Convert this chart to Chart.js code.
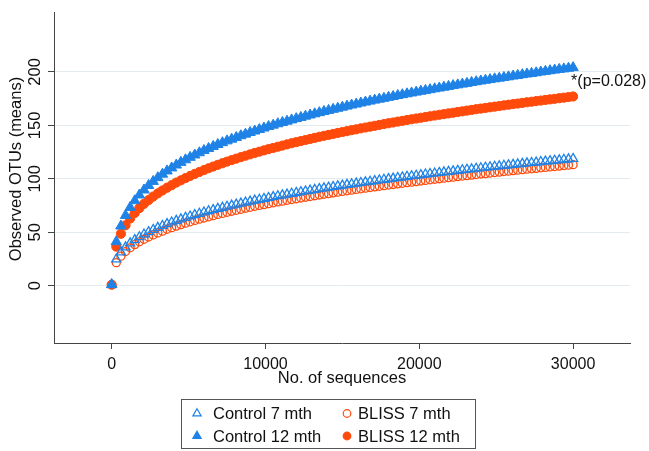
<!DOCTYPE html>
<html lang="en">
<head>
    <meta charset="UTF-8">
    <title>Observed OTUs rarefaction</title>
    <script src="https://cdn.jsdelivr.net/npm/chart.js"></script>
    <style>
        body { margin: 0; background: #fff; }
        canvas { display: block; }
    </style>
</head>
<body>
    <canvas id="otuChart" width="649" height="451"></canvas>
    <script>
        // sequencing depth (x) and mean observed OTUs per group
        const seqDepth = [0,300,600,900,1200,1500,1800,2100,2400,2700,3000,3300,3600,3900,4200,4500,4800,5100,5400,5700,
            6000,6300,6600,6900,7200,7500,7800,8100,8400,8700,9000,9300,9600,9900,10200,10500,10800,11100,11400,11700,
            12000,12300,12600,12900,13200,13500,13800,14100,14400,14700,15000,15300,15600,15900,16200,16500,16800,17100,17400,17700,
            18000,18300,18600,18900,19200,19500,19800,20100,20400,20700,21000,21300,21600,21900,22200,22500,22800,23100,23400,23700,
            24000,24300,24600,24900,25200,25500,25800,26100,26400,26700,27000,27300,27600,27900,28200,28500,28800,29100,29400,29700,30000];

        const control7 = [1, 24.8, 31.4, 36.1, 39.8, 42.9, 45.6, 48.1, 50.3, 52.4, 54.3,
            56.1, 57.8, 59.4, 60.9, 62.3, 63.7, 65.0, 66.3, 67.5, 68.7,
            69.9, 71.0, 72.1, 73.1, 74.1, 75.1, 76.1, 77.0, 78.0, 78.9,
            79.8, 80.6, 81.4, 82.3, 83.1, 83.9, 84.7, 85.4, 86.2, 87.0,
            87.7, 88.4, 89.2, 89.9, 90.6, 91.3, 91.9, 92.6, 93.2, 93.9,
            94.5, 95.1, 95.7, 96.3, 96.9, 97.5, 98.1, 98.7, 99.3, 99.9,
            100.4, 101.0, 101.5, 102.1, 102.6, 103.1, 103.6, 104.2, 104.7, 105.2,
            105.7, 106.2, 106.7, 107.2, 107.7, 108.2, 108.7, 109.1, 109.6, 110.1,
            110.6, 111.0, 111.5, 111.9, 112.4, 112.8, 113.3, 113.7, 114.2, 114.6,
            115.0, 115.4, 115.9, 116.3, 116.7, 117.1, 117.5, 118.0, 118.4, 118.8];

        const control12 = [1, 41.2, 55.9, 65.8, 73.3, 79.5, 84.9, 89.6, 93.8, 97.6, 101.1,
            104.4, 107.4, 110.2, 112.9, 115.4, 117.8, 120.1, 122.3, 124.4, 126.5,
            128.4, 130.3, 132.1, 133.8, 135.5, 137.1, 138.7, 140.3, 141.8, 143.3,
            144.7, 146.1, 147.5, 148.9, 150.2, 151.5, 152.7, 153.9, 155.1, 156.3,
            157.4, 158.6, 159.7, 160.8, 161.9, 163.0, 164.0, 165.0, 166.0, 167.0,
            168.0, 169.0, 169.9, 170.9, 171.8, 172.7, 173.6, 174.5, 175.3, 176.2,
            177.0, 177.9, 178.7, 179.5, 180.3, 181.1, 181.9, 182.7, 183.4, 184.2,
            184.9, 185.7, 186.4, 187.2, 187.9, 188.6, 189.3, 190.1, 190.8, 191.5,
            192.2, 192.8, 193.5, 194.1, 194.8, 195.4, 196.1, 196.7, 197.4, 198.0,
            198.6, 199.2, 199.9, 200.5, 201.1, 201.7, 202.3, 202.8, 203.4, 204.0];

        const bliss7 = [1, 21.6, 27.7, 32.0, 35.5, 38.5, 41.1, 43.5, 45.6, 47.6, 49.4,
            51.1, 52.8, 54.3, 55.8, 57.2, 58.5, 59.8, 61.1, 62.3, 63.4,
            64.5, 65.6, 66.7, 67.7, 68.7, 69.7, 70.6, 71.5, 72.5, 73.4,
            74.3, 75.1, 75.9, 76.8, 77.6, 78.4, 79.1, 79.9, 80.6, 81.4,
            82.1, 82.8, 83.5, 84.2, 84.9, 85.6, 86.2, 86.9, 87.5, 88.2,
            88.8, 89.4, 90.1, 90.7, 91.3, 91.9, 92.5, 93.0, 93.6, 94.2,
            94.7, 95.3, 95.8, 96.4, 96.9, 97.4, 98.0, 98.5, 99.1, 99.6,
            100.1, 100.6, 101.1, 101.6, 102.1, 102.6, 103.0, 103.5, 104.0, 104.5,
            104.9, 105.4, 105.9, 106.3, 106.8, 107.2, 107.7, 108.1, 108.6, 109.0,
            109.4, 109.8, 110.3, 110.7, 111.1, 111.5, 111.9, 112.4, 112.8, 113.2];

        const bliss12 = [1, 36.6, 48.6, 56.6, 62.9, 68.1, 72.6, 76.6, 80.1, 83.4, 86.4,
            89.1, 91.7, 94.1, 96.5, 98.6, 100.7, 102.7, 104.6, 106.4, 108.2,
            109.9, 111.5, 113.1, 114.6, 116.1, 117.5, 118.9, 120.3, 121.6, 122.9,
            124.2, 125.4, 126.6, 127.8, 128.9, 130.0, 131.1, 132.2, 133.3, 134.3,
            135.3, 136.3, 137.3, 138.3, 139.3, 140.2, 141.1, 142.0, 142.9, 143.8,
            144.6, 145.5, 146.3, 147.2, 148.0, 148.8, 149.6, 150.4, 151.2, 152.0,
            152.7, 153.5, 154.2, 155.0, 155.7, 156.4, 157.1, 157.8, 158.5, 159.2,
            159.9, 160.5, 161.2, 161.8, 162.5, 163.1, 163.8, 164.4, 165.1, 165.7,
            166.3, 166.9, 167.5, 168.1, 168.7, 169.3, 169.9, 170.4, 171.0, 171.6,
            172.1, 172.7, 173.2, 173.8, 174.3, 174.8, 175.4, 175.9, 176.5, 177.0];

        const xTicks = [0, 10000, 20000, 30000];
        const yTicks = [0, 50, 100, 150, 200];
        const pLabel = '*(p=0.028)';

        const BLUE = '#1f82e6';
        const RED = '#ff4a0c';

        function toPoints(ys) {
            return seqDepth.map((x, i) => ({ x: x, y: ys[i] }));
        }

        // legend entries, in Stata's column order
        const legendItems = [
            { label: 'Control 7 mth', style: 'triangle', color: BLUE, filled: false, col: 0, row: 0 },
            { label: 'Control 12 mth', style: 'triangle', color: BLUE, filled: true, col: 0, row: 1 },
            { label: 'BLISS 7 mth', style: 'circle', color: RED, filled: false, col: 1, row: 0 },
            { label: 'BLISS 12 mth', style: 'circle', color: RED, filled: true, col: 1, row: 1 }
        ];

        function drawMarker(ctx, style, x, y, r, color, filled) {
            ctx.beginPath();
            if (style === 'triangle') {
                ctx.moveTo(x, y - r);
                ctx.lineTo(x + r * 0.866, y + r / 2);
                ctx.lineTo(x - r * 0.866, y + r / 2);
                ctx.closePath();
            } else {
                ctx.arc(x, y, r, 0, Math.PI * 2);
            }
            ctx.lineWidth = 1.2;
            ctx.strokeStyle = color;
            if (filled) {
                ctx.fillStyle = color;
                ctx.fill();
            }
            ctx.stroke();
        }

        const extrasPlugin = {
            id: 'extras',
            afterDraw(chart) {
                const ctx = chart.ctx;
                const xs = chart.scales.x;
                const ys = chart.scales.y;
                ctx.save();
                ctx.fillStyle = '#111';
                ctx.font = "16px 'Liberation Sans', Arial, sans-serif";

                // p-value note next to the last Control 12 mth point
                ctx.textAlign = 'left';
                ctx.textBaseline = 'middle';
                ctx.fillText(pLabel, xs.getPixelForValue(30000) - 2, ys.getPixelForValue(204) + 14);

                // y axis title
                ctx.save();
                ctx.translate(16.5, 169);
                ctx.rotate(-Math.PI / 2);
                ctx.textAlign = 'center';
                ctx.font = "16.5px 'Liberation Sans', Arial, sans-serif";
                ctx.fillText('Observed OTUs (means)', 0, 0);
                ctx.restore();

                // legend box
                ctx.strokeStyle = '#555';
                ctx.lineWidth = 1;
                ctx.strokeRect(181.5, 399.5, 294, 49);
                ctx.font = "16.5px 'Liberation Sans', Arial, sans-serif";
                legendItems.forEach(item => {
                    const mx = item.col === 0 ? 197 : 347;
                    const tx = item.col === 0 ? 213 : 358;
                    const cy = item.row === 0 ? 413.5 : 436;
                    const r = item.style === 'triangle' ? 4.8 : 3.8;
                    drawMarker(ctx, item.style, mx, cy, r, item.color, item.filled);
                    ctx.fillStyle = '#111';
                    ctx.textAlign = 'left';
                    ctx.textBaseline = 'middle';
                    ctx.fillText(item.label, tx, cy + 1);
                });
                ctx.restore();
            }
        };

        Chart.defaults.font.family = "'Liberation Sans', Arial, sans-serif";
        Chart.defaults.font.size = 16;
        Chart.defaults.color = '#111';

        const ctx = document.getElementById('otuChart').getContext('2d');
        new Chart(ctx, {
            type: 'scatter',
            data: {
                datasets: [
                    {
                        label: 'Control 7 mth', data: toPoints(control7),
                        pointStyle: 'triangle', pointRadius: 5.3, borderWidth: 1.3,
                        borderColor: BLUE, backgroundColor: 'rgba(0,0,0,0)', order: 2
                    },
                    {
                        label: 'Control 12 mth', data: toPoints(control12),
                        pointStyle: 'triangle', pointRadius: 6, borderWidth: 1,
                        borderColor: BLUE, backgroundColor: BLUE, order: 1
                    },
                    {
                        label: 'BLISS 7 mth', data: toPoints(bliss7),
                        pointStyle: 'circle', pointRadius: 4, borderWidth: 1.3,
                        borderColor: RED, backgroundColor: 'rgba(0,0,0,0)', order: 4
                    },
                    {
                        label: 'BLISS 12 mth', data: toPoints(bliss12),
                        pointStyle: 'circle', pointRadius: 4.6, borderWidth: 1,
                        borderColor: RED, backgroundColor: RED, order: 3
                    }
                ]
            },
            options: {
                responsive: false,
                animation: false,
                layout: { padding: { left: 0, right: 19, top: 12, bottom: 59 } },
                plugins: {
                    legend: { display: false },
                    tooltip: { enabled: false }
                },
                scales: {
                    x: {
                        type: 'linear',
                        min: -3750,
                        max: 33700,
                        afterBuildTicks: axis => { axis.ticks = xTicks.map(v => ({ value: v })); },
                        afterFit: axis => { axis.height = 49; },
                        ticks: { padding: 6, font: { size: 16 }, callback: v => String(v) },
                        grid: { drawOnChartArea: false, drawTicks: true, tickLength: 6, tickColor: '#444' },
                        border: { display: true, color: '#444', width: 1 },
                        title: { display: true, text: 'No. of sequences', font: { size: 16.5 }, padding: { top: 4, bottom: 4 } }
                    },
                    y: {
                        type: 'linear',
                        min: -53.5,
                        max: 256,
                        afterBuildTicks: axis => { axis.ticks = yTicks.map(v => ({ value: v })); },
                        afterFit: axis => { axis.width = 54; },
                        ticks: { padding: -1, minRotation: 90, maxRotation: 90, crossAlign: 'center', font: { size: 16.5 } },
                        grid: { color: '#e2ebee', lineWidth: 1, drawTicks: true, tickLength: 6, tickColor: '#444' },
                        border: { display: true, color: '#444', width: 1 },
                        title: { display: false }
                    }
                }
            },
            plugins: [extrasPlugin]
        });
    </script>
</body>
</html>
